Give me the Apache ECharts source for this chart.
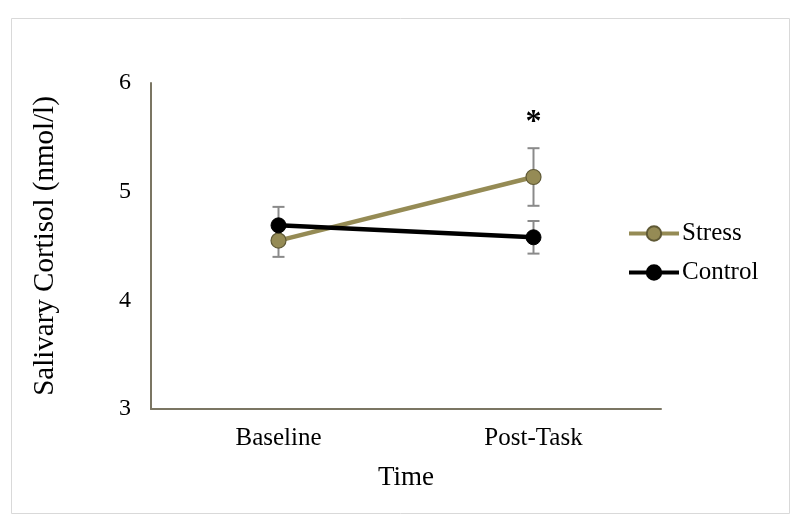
<!DOCTYPE html>
<html>
<head>
<meta charset="utf-8">
<script src="https://cdn.jsdelivr.net/npm/echarts@6/dist/echarts.min.js"></script>
<style>html,body{margin:0;padding:0;background:#fff;}#c{width:800px;height:524px;}</style>
</head>
<body>
<div id="c"></div>
<script>
var categories = ['Baseline', 'Post-Task'];
var stressMean = [4.55, 5.135];
var stressErr = [0.15, 0.265];
var controlMean = [4.69, 4.58];
var controlErr = [0.17, 0.15];
var yTicks = [3, 4, 5, 6];
var sigLabel = '*';
var sigValue = 5.63;

var font = 'Liberation Serif, Times New Roman, serif';
var stressColor = '#958b55';
var stressBorder = '#5f5935';
var errColor = '#8a8a8a';

function errData(mean, err) {
  return mean.map(function (m, i) { return [i, m - err[i], m + err[i]]; });
}
function errRender(params, api) {
  var x = api.value(0);
  var lo = api.coord([x, api.value(1)]);
  var hi = api.coord([x, api.value(2)]);
  var w = 6;
  var st = { stroke: errColor, lineWidth: 2 };
  return {
    type: 'group',
    children: [
      { type: 'line', shape: { x1: lo[0], y1: lo[1], x2: hi[0], y2: hi[1] }, style: st },
      { type: 'line', shape: { x1: lo[0] - w, y1: lo[1], x2: lo[0] + w, y2: lo[1] }, style: st },
      { type: 'line', shape: { x1: hi[0] - w, y1: hi[1], x2: hi[0] + w, y2: hi[1] }, style: st }
    ]
  };
}

var chart = echarts.init(document.getElementById('c'));
chart.setOption({
  animation: false,
  backgroundColor: '#ffffff',
  graphic: [{
    type: 'rect', shape: { x: 11.5, y: 18.5, width: 778, height: 495 },
    style: { fill: 'none', stroke: '#d9d9d9', lineWidth: 1 }, silent: true, z: -1
  }],
  grid: { left: 151, right: 139, top: 83, bottom: 115 },
  legend: {
    orient: 'vertical', left: 622, top: 216, itemGap: 14,
    itemWidth: 50, itemHeight: 18,
    lineStyle: { width: 4 },
    textStyle: { fontFamily: font, fontSize: 25, color: '#000', padding: [0, 0, 0, -2] },
    data: ['Stress', 'Control']
  },
  xAxis: {
    type: 'category', data: categories, boundaryGap: true,
    axisLine: { lineStyle: { color: '#7b7663', width: 2 } },
    axisTick: { show: false },
    axisLabel: { fontFamily: font, fontSize: 25, color: '#000', margin: 17 },
    name: 'Time', nameLocation: 'middle', nameGap: 55,
    nameTextStyle: { fontFamily: font, fontSize: 27, color: '#000' }
  },
  yAxis: {
    type: 'value', min: yTicks[0], max: yTicks[yTicks.length - 1], interval: 1,
    axisLine: { show: true, lineStyle: { color: '#7b7663', width: 2 } },
    axisTick: { show: false },
    splitLine: { show: false },
    axisLabel: { fontFamily: font, fontSize: 24, color: '#000', margin: 20 },
    name: 'Salivary Cortisol (nmol/l)', nameLocation: 'middle', nameGap: 91, nameRotate: 90,
    nameTextStyle: { fontFamily: font, fontSize: 29, color: '#000' }
  },
  series: [
    {
      type: 'custom', name: 'errS', renderItem: errRender, data: errData(stressMean, stressErr), z: 1, silent: true
    },
    {
      type: 'custom', name: 'errC', renderItem: errRender, data: errData(controlMean, controlErr), z: 1, silent: true
    },
    {
      name: 'Stress', type: 'line', data: stressMean, z: 3,
      symbol: 'circle', symbolSize: 15,
      lineStyle: { color: stressColor, width: 4.5 },
      itemStyle: { color: stressColor, borderColor: stressBorder, borderWidth: 1.2 },
      markPoint: {
        symbol: 'circle', symbolSize: 0,
        label: { show: true, formatter: sigLabel, fontFamily: font, fontSize: 32, fontWeight: 'bold', color: '#000', position: 'inside' },
        data: [{ coord: [1, sigValue] }]
      }
    },
    {
      name: 'Control', type: 'line', data: controlMean, z: 4,
      symbol: 'circle', symbolSize: 15,
      lineStyle: { color: '#000', width: 4.5 },
      itemStyle: { color: '#000', borderColor: '#000', borderWidth: 1 }
    }
  ]
});
</script>
</body>
</html>
